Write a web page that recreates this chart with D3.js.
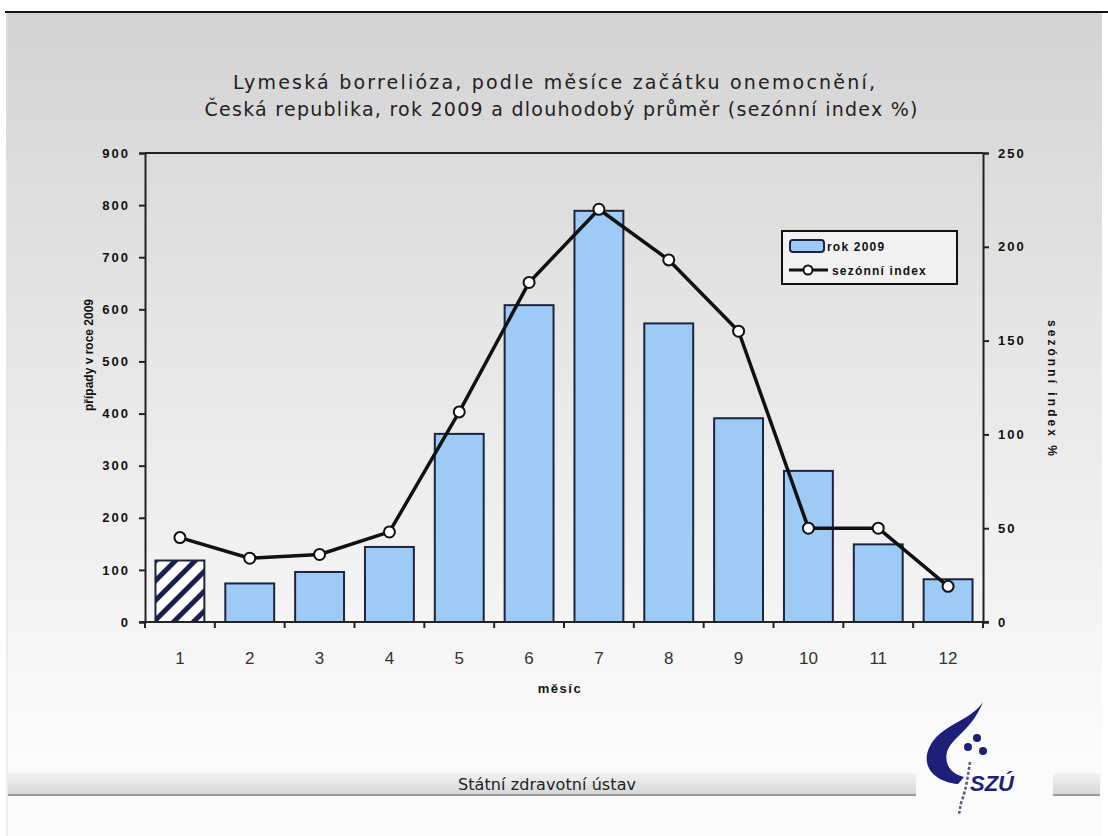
<!DOCTYPE html>
<html>
<head>
<meta charset="utf-8">
<script src="https://cdnjs.cloudflare.com/ajax/libs/d3/7.8.5/d3.min.js"></script>
<style>
  html, body { margin: 0; padding: 0; background: #ffffff; }
  svg { display: block; }
</style>
</head>
<body>
<div id="chart"></div>
<script>
// Monthly counts of Lyme borreliosis, Czech Republic 2009, and long-term seasonal index
const months = ["1", "2", "3", "4", "5", "6", "7", "8", "9", "10", "11", "12"];
const cases2009 = [118, 74, 96, 144, 361, 608, 789, 573, 391, 290, 149, 82];
const seasonalIndex = [45, 34, 36, 48, 112, 181, 220, 193, 155, 50, 50, 19];
const leftTicks = [0, 100, 200, 300, 400, 500, 600, 700, 800, 900];
const rightTicks = [0, 50, 100, 150, 200, 250];

const titleLines = [
  "Lymeská borrelióza, podle měsíce začátku onemocnění,",
  "Česká republika, rok 2009 a dlouhodobý průměr (sezónní index %)"
];
const legendLabels = ["rok 2009", "sezónní index"];

const W = 1108, H = 836;
const plot = { left: 145, right: 983, top: 153, bottom: 622 };

const svg = d3.select("#chart").append("svg")
  .attr("width", W).attr("height", H)
  .style("font-family", "'Liberation Sans', Arial, sans-serif");

const defs = svg.append("defs");

// slide background gradient
const bg = defs.append("linearGradient").attr("id", "bg")
  .attr("x1", 0).attr("y1", 0).attr("x2", 0).attr("y2", 1);
bg.append("stop").attr("offset", "0%").attr("stop-color", "#d3d3d3");
bg.append("stop").attr("offset", "45%").attr("stop-color", "#e6e6e6");
bg.append("stop").attr("offset", "100%").attr("stop-color", "#fbfbfb");

const band = defs.append("linearGradient").attr("id", "band")
  .attr("x1", 0).attr("y1", 0).attr("x2", 0).attr("y2", 1);
band.append("stop").attr("offset", "0%").attr("stop-color", "#f2f2f2");
band.append("stop").attr("offset", "100%").attr("stop-color", "#d6d6d6");

// diagonal hatch for the first month
const hatch = defs.append("pattern").attr("id", "hatch")
  .attr("patternUnits", "userSpaceOnUse")
  .attr("width", 14).attr("height", 14)
  .attr("patternTransform", "rotate(45)");
hatch.append("rect").attr("width", 14).attr("height", 14).attr("fill", "#ffffff");
hatch.append("rect").attr("x", 0).attr("y", 0).attr("width", 5).attr("height", 14).attr("fill", "#1b1f4f");

svg.append("rect").attr("x", 0).attr("y", 0).attr("width", W).attr("height", H).attr("fill", "#ffffff");
svg.append("rect").attr("x", 6).attr("y", 12).attr("width", 1096).attr("height", 740).attr("fill", "url(#bg)");
svg.append("rect").attr("x", 6).attr("y", 752).attr("width", 1096).attr("height", 84).attr("fill", "#fbfbfb");
svg.append("line").attr("x1", 5).attr("x2", W).attr("y1", 12).attr("y2", 12)
  .attr("stroke", "#111").attr("stroke-width", 2);
svg.append("line").attr("x1", 7).attr("x2", 7).attr("y1", 13).attr("y2", H)
  .attr("stroke", "#e2e2e2").attr("stroke-width", 1);

// title
const titleX = [554, 561], titleLen = [642, 713];
svg.append("g").selectAll("text").data(titleLines).join("text")
  .attr("x", (d, i) => titleX[i]).attr("y", (d, i) => 89 + i * 27)
  .attr("text-anchor", "middle")
  .attr("textLength", (d, i) => titleLen[i]).attr("lengthAdjust", "spacing")
  .attr("font-size", 19).attr("fill", "#222")
  .style("font-family", "'DejaVu Sans', Verdana, sans-serif")
  .text(d => d);

// scales
const x = d3.scaleBand().domain(months).range([plot.left, plot.right])
  .paddingInner(0.3).paddingOuter(0.15);
const yL = d3.scaleLinear().domain([0, 900]).range([plot.bottom, plot.top]);
const yR = d3.scaleLinear().domain([0, 250]).range([plot.bottom, plot.top]);

// bars
svg.append("g").selectAll("rect").data(cases2009).join("rect")
  .attr("x", (d, i) => x(months[i]))
  .attr("y", d => yL(d))
  .attr("width", x.bandwidth())
  .attr("height", d => yL(0) - yL(d))
  .attr("fill", (d, i) => i === 0 ? "url(#hatch)" : "#9dcbf6")
  .attr("stroke", "#1c2540").attr("stroke-width", 2);

// plot frame top line
svg.append("line").attr("x1", plot.left).attr("x2", plot.right)
  .attr("y1", plot.top).attr("y2", plot.top)
  .attr("stroke", "#222").attr("stroke-width", 2);

// left axis
const axL = svg.append("g").attr("transform", `translate(${plot.left},0)`)
  .call(d3.axisLeft(yL).tickValues(leftTicks).tickSize(6).tickPadding(9));
// right axis
const axR = svg.append("g").attr("transform", `translate(${plot.right},0)`)
  .call(d3.axisRight(yR).tickValues(rightTicks).tickSize(6).tickPadding(9));
[axL, axR].forEach(a => {
  a.select(".domain").attr("stroke", "#222").attr("stroke-width", 2);
  a.selectAll(".tick line").attr("stroke", "#222").attr("stroke-width", 2);
  a.selectAll(".tick text").attr("font-size", 13).attr("font-weight", "bold")
    .attr("letter-spacing", 2).attr("fill", "#111")
    .style("font-family", "'Liberation Sans', Arial, sans-serif");
});

// bottom axis with ticks between categories
const xAxis = svg.append("g");
xAxis.append("line").attr("x1", plot.left - 6).attr("x2", plot.right + 6)
  .attr("y1", plot.bottom).attr("y2", plot.bottom)
  .attr("stroke", "#222").attr("stroke-width", 2);
const boundaries = months.map(m => x(m) + x.bandwidth() / 2 - x.step() / 2)
  .concat([plot.right]);
xAxis.selectAll("line.t").data(boundaries).join("line").attr("class", "t")
  .attr("x1", d => d).attr("x2", d => d)
  .attr("y1", plot.bottom).attr("y2", plot.bottom + 6)
  .attr("stroke", "#222").attr("stroke-width", 2);
xAxis.selectAll("text").data(months).join("text")
  .attr("x", d => x(d) + x.bandwidth() / 2)
  .attr("y", 664)
  .attr("text-anchor", "middle")
  .attr("font-size", 17).attr("fill", "#333")
  .text(d => d);

// axis titles
svg.append("text").attr("x", 560).attr("y", 693).attr("text-anchor", "middle")
  .attr("font-size", 13).attr("font-weight", "bold").attr("letter-spacing", 1.5).attr("fill", "#111")
  .text("měsíc");
svg.append("text").attr("transform", "translate(93,355) rotate(-90)")
  .attr("text-anchor", "middle")
  .attr("textLength", 112).attr("lengthAdjust", "spacingAndGlyphs")
  .attr("font-size", 12).attr("font-weight", "bold").attr("fill", "#111")
  .text("případy v roce 2009");
svg.append("text").attr("transform", "translate(1048,388) rotate(90)")
  .attr("text-anchor", "middle")
  .attr("textLength", 136).attr("lengthAdjust", "spacing")
  .attr("font-size", 12).attr("font-weight", "bold").attr("fill", "#111")
  .text("sezónní index %");

// seasonal index line
const cx = i => x(months[i]) + x.bandwidth() / 2;
const line = d3.line().x((d, i) => cx(i)).y(d => yR(d));
svg.append("path").datum(seasonalIndex)
  .attr("d", line).attr("fill", "none")
  .attr("stroke", "#111").attr("stroke-width", 3.5).attr("stroke-linejoin", "round");
svg.append("g").selectAll("circle").data(seasonalIndex).join("circle")
  .attr("cx", (d, i) => cx(i)).attr("cy", d => yR(d)).attr("r", 5.5)
  .attr("fill", "#ffffff").attr("stroke", "#111").attr("stroke-width", 2);

// legend
const lg = svg.append("g").attr("transform", "translate(782,231)");
lg.append("rect").attr("width", 175).attr("height", 53)
  .attr("fill", "#f1f1f1").attr("stroke", "#111").attr("stroke-width", 2);
lg.append("rect").attr("x", 8).attr("y", 9).attr("width", 34).attr("height", 12).attr("rx", 3)
  .attr("fill", "#9dcbf6").attr("stroke", "#1c2540").attr("stroke-width", 2);
lg.append("line").attr("x1", 7).attr("x2", 46).attr("y1", 39).attr("y2", 39)
  .attr("stroke", "#111").attr("stroke-width", 3);
lg.append("circle").attr("cx", 26).attr("cy", 39).attr("r", 4.5)
  .attr("fill", "#fff").attr("stroke", "#111").attr("stroke-width", 2);
lg.selectAll("text.l").data(legendLabels).join("text").attr("class", "l")
  .attr("x", (d, i) => i === 0 ? 45 : 50).attr("y", (d, i) => 20 + i * 24)
  .attr("font-size", 12).attr("font-weight", "bold").attr("letter-spacing", 1.2).attr("fill", "#111")
  .text(d => d);

// footer band
const footer = svg.append("g");
[[8, 916], [1053, 1100]].forEach(([a, b]) => {
  footer.append("rect").attr("x", a).attr("y", 773).attr("width", b - a).attr("height", 22)
    .attr("fill", "url(#band)");
  footer.append("line").attr("x1", a).attr("x2", b).attr("y1", 795).attr("y2", 795)
    .attr("stroke", "#9a9a9a").attr("stroke-width", 2);
});
footer.append("text").attr("x", 547).attr("y", 790).attr("text-anchor", "middle")
  .attr("textLength", 178).attr("lengthAdjust", "spacing")
  .attr("font-size", 16).attr("fill", "#222")
  .style("font-family", "'DejaVu Sans', Verdana, sans-serif")
  .text("Státní zdravotní ústav");

// institute logo
const logo = svg.append("g");
logo.append("path")
  .attr("d", "M983,702 C970,722 940,724 929,748 C921,766 934,782 958,784 L964,777 C951,774 944,764 947,752 C951,738 972,730 983,702 Z")
  .attr("fill", "#1d1f78");
logo.append("path")
  .attr("d", "M970,762 C968,775 966,790 962,800 C960,806 960,810 959,814")
  .attr("fill", "none").attr("stroke", "#5a5a7a").attr("stroke-width", 2.5)
  .attr("stroke-dasharray", "3,2");
[[968, 747], [977, 738], [983, 751]].forEach(([px, py]) => {
  logo.append("circle").attr("cx", px).attr("cy", py).attr("r", 4).attr("fill", "#1d1f78");
});
logo.append("text").attr("x", 970).attr("y", 791)
  .attr("font-size", 22).attr("font-weight", "bold").attr("font-style", "italic")
  .attr("fill", "#1d1f78").text("SZÚ");
</script>
</body>
</html>
